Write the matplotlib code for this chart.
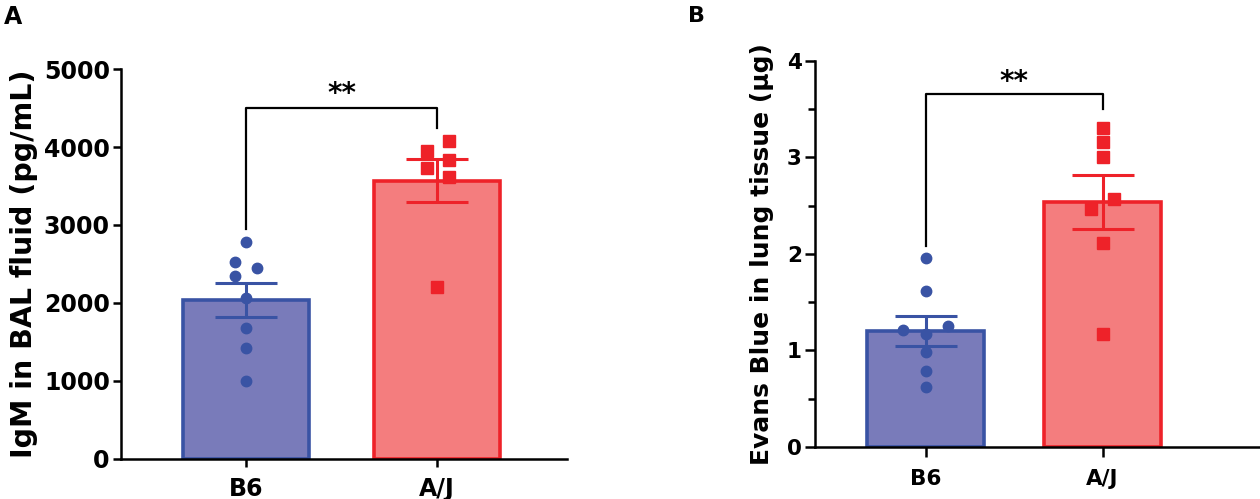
import numpy as np
import matplotlib
matplotlib.use('Agg')
import matplotlib.pyplot as plt

plt.rcParams['font.family'] = ['DejaVu Sans']
plt.rcParams['font.weight'] = 'bold'

groups = ['B6', 'A/J']

# panel A: IgM in BAL fluid (pg/mL)
igm_b6 = [2780, 2530, 2445, 2350, 2060, 1683, 1419, 1000]
igm_aj = [4077, 3949, 3833, 3735, 3620, 2209]
# panel B: Evans Blue in lung tissue (ug)
eb_b6 = [1.96, 1.62, 1.21, 1.25, 1.17, 0.98, 0.79, 0.62]
eb_aj = [3.31, 3.16, 3.01, 2.57, 2.47, 2.11, 1.17]

# horizontal scatter of the dots
jit_a_b6 = [0, -0.058, 0.058, -0.058, 0, 0, 0, 0]
jit_a_aj = [0.06, -0.055, 0.06, -0.055, 0.06, 0]
jit_b_b6 = [0, 0, -0.128, 0.126, 0, 0, 0, 0]
jit_b_aj = [0, 0, 0, 0.066, -0.064, 0, 0]

blue_edge = '#3953A4'
blue_fill = '#797BBA'
red_edge = '#EE2229'
red_fill = '#F47D7E'


def sem(v):
    v = np.asarray(v, float)
    return v.std(ddof=1) / np.sqrt(len(v))


def panel(ax, b6, aj, jb6, jaj, ymax, yticks, minor, ylabel, br_y, br_l, br_r, star_y,
          tfs, xfs, lfs, tlen, lpad, xpad):
    data = [b6, aj]
    means = [np.mean(d) for d in data]
    errs = [sem(d) for d in data]
    edges = [blue_edge, red_edge]
    fills = [blue_fill, red_fill]
    for i in range(2):
        ax.bar(i, means[i], width=0.66, color=fills[i], edgecolor=edges[i],
               linewidth=2.6, zorder=2)
        ax.errorbar(i, means[i], yerr=errs[i], color=edges[i], capsize=22,
                    elinewidth=2.2, capthick=2.2, zorder=3)
    ax.plot(np.array(jb6), b6, 'o', color=blue_edge, markersize=7.5, zorder=4, clip_on=False)
    ax.plot(1 + np.array(jaj), aj, 's', color=red_edge, markersize=8, zorder=4, clip_on=False)

    # significance bracket
    ax.plot([0, 0, 1, 1], [br_l, br_y, br_y, br_r], color='black', lw=1.6, clip_on=False)
    ax.text(0.5, star_y, '**', ha='center', va='center', fontsize=20, fontweight='bold')

    ax.set_ylim(0, ymax)
    ax.set_yticks(yticks)
    if minor is not None:
        ax.set_yticks(minor, minor=True)
    ax.set_xticks([0, 1])
    ax.set_xticklabels(groups, fontsize=xfs, fontweight='bold')
    ax.set_ylabel(ylabel, fontsize=lfs, fontweight='bold', labelpad=lpad)
    for s in ['top', 'right']:
        ax.spines[s].set_visible(False)
    for s in ['left', 'bottom']:
        ax.spines[s].set_linewidth(1.8)
    ax.tick_params(axis='both', which='major', width=1.8, length=tlen, labelsize=tfs, pad=2)
    ax.tick_params(axis='y', which='minor', width=1.8, length=5)
    ax.tick_params(axis='x', pad=xpad)


fig = plt.figure(figsize=(12.6, 4.99), dpi=100)
axA = fig.add_axes([0.096, 0.0802, 0.354, 0.7815])
axB = fig.add_axes([0.6468, 0.1042, 0.3532, 0.7736])

panel(axA, igm_b6, igm_aj, jit_a_b6, jit_a_aj, 5000, np.arange(0, 5001, 1000), None,
      'IgM in BAL fluid (pg/mL)', 4500, 2950, 4250, 4680,
      17, 18.5, 20.5, 6, 4, 7)
axA.set_xlim(-0.655, 1.68)

panel(axB, eb_b6, eb_aj, jit_b_b6, jit_b_aj, 4, np.arange(0, 5, 1), np.arange(0.5, 4, 1.0),
      'Evans Blue in lung tissue (\u00b5g)', 3.66, 2.08, 3.5, 3.78,
      15.5, 17.5, 18, 7.5, 9, 8)
axB.set_xlim(-0.627, 1.89)

fig.text(0.003, 0.99, 'A', fontsize=17, fontweight='bold', va='top')
fig.text(0.546, 0.988, 'B', fontsize=16, fontweight='bold', va='top')

fig.savefig('out.png', dpi=100)
